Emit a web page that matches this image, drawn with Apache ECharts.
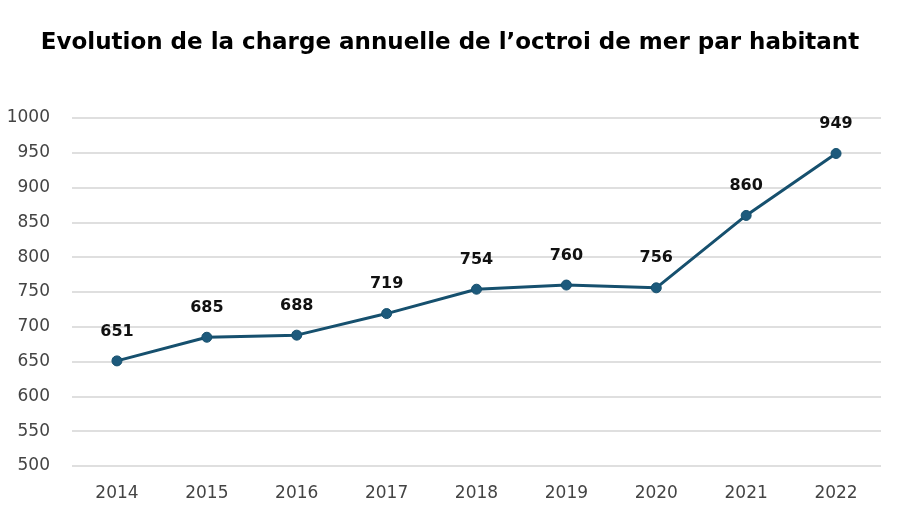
<!DOCTYPE html>
<html><head><meta charset="utf-8">
<script src="https://cdn.jsdelivr.net/npm/echarts@6/dist/echarts.min.js"></script>
<style>html,body{margin:0;padding:0;background:#fff}#c{width:900px;height:515px}</style>
</head><body><div id="c"></div>
<script>
const categories = ['2014','2015','2016','2017','2018','2019','2020','2021','2022'];
const values = [651, 685, 688, 719, 754, 760, 756, 860, 949];
const titleText = 'Evolution de la charge annuelle de l\u2019octroi de mer par habitant';
const chart = echarts.init(document.getElementById('c'));
chart.setOption({
  backgroundColor: '#fff',
  title: {text: titleText, left: 'center', top: 27,
    textStyle: {fontFamily: 'DejaVu Sans', fontWeight: 'bold', fontSize: 23, color: '#000'}},
  grid: {left: 72, right: 19, top: 118, bottom: 49},
  xAxis: {type: 'category', data: categories, boundaryGap: true,
    axisLine: {show: false}, axisTick: {show: false},
    axisLabel: {color: '#444', fontSize: 17, margin: 19, fontFamily: 'DejaVu Sans'}},
  yAxis: {type: 'value', min: 500, max: 1000, interval: 50,
    axisLine: {show: false}, axisTick: {show: false},
    axisLabel: {color: '#444', fontSize: 17, margin: 22, fontFamily: 'DejaVu Sans', formatter: v => String(v)},
    splitLine: {lineStyle: {color: '#d4d4d4', width: 1.5}}},
  series: [{type: 'line', data: values, symbol: 'circle', symbolSize: 10,
    lineStyle: {color: '#16506e', width: 3}, itemStyle: {color: '#1d5a7c', borderColor: '#16506e', borderWidth: 1},
    label: {show: true, position: 'top', distance: 16, color: '#111', fontWeight: 'bold', fontSize: 16, fontFamily: 'DejaVu Sans'}}]
});
</script></body></html>
